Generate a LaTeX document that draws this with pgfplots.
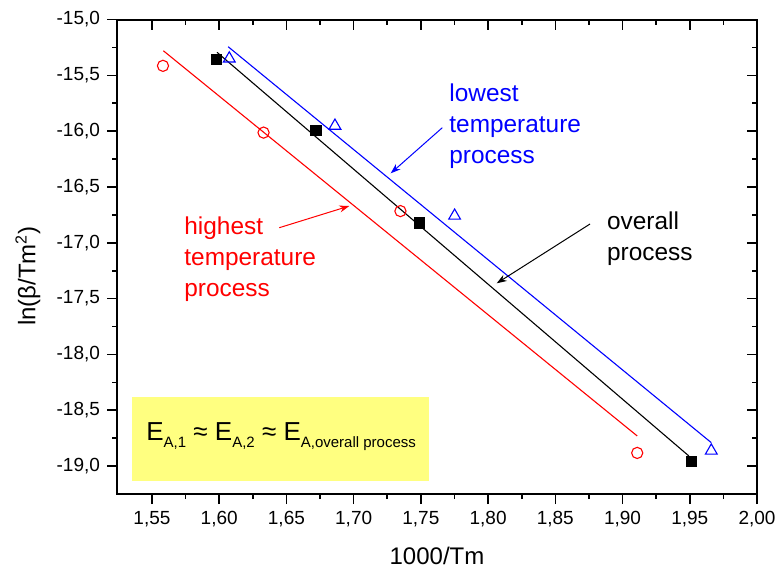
\documentclass[border=0pt]{standalone}
\usepackage{pgfplots}
\pgfplotsset{compat=1.18}
\usetikzlibrary{arrows.meta}
\usepackage{fontspec}
\setmainfont{Liberation Sans}
\definecolor{boxyellow}{RGB}{255,255,128}
\begin{document}
\begin{tikzpicture}
\path[use as bounding box] (0,0) rectangle (390.5pt,-287pt);
\begin{scope}[x=0.5pt,y=-0.5pt]
\fill[boxyellow] (132.3,397.3) rectangle (429.3,481.2);
\end{scope}
\pgfplotsset{myaxis/.style={
  at={(58.5pt,-247pt)}, anchor=south west, scale only axis,
  width=320pt, height=237.25pt,
  xmin=1.524, xmax=2.0, ymin=-19.25, ymax=-15,
  xtick={1.55,1.6,1.65,1.7,1.75,1.8,1.85,1.9,1.95,2.0},
  ytick={-19,-18.5,-18,-17.5,-17,-16.5,-16,-15.5,-15},
  minor x tick num=1, minor y tick num=1,
  major tick length=5pt, minor tick length=2.5pt,
  axis line style={line width=1pt},
  every tick/.style={black,line width=0.8pt},
  tick label style={font=\fontsize{9.5}{11}\selectfont},
  /pgf/number format/.cd, use comma, fixed, fixed zerofill, assume math mode=true,
}}
\begin{axis}[myaxis,
  tick align=outside, tick pos=left,
  xticklabel style={/pgf/number format/precision=2},
  yticklabel style={/pgf/number format/precision=1},
  clip=false]
\addplot[red, line width=0.55pt] coordinates {(1.5585,-15.28) (1.9109,-18.73)};
\addplot[black, line width=0.55pt] coordinates {(1.5984,-15.294) (1.9493,-18.909)};
\addplot[blue, line width=0.55pt] coordinates {(1.6067,-15.244) (1.966,-18.79)};
\addplot[only marks, red, mark=o, mark size=2.8pt, mark options={line width=0.55pt}]
  coordinates {(1.5582,-15.415) (1.633,-16.013) (1.7348,-16.716) (1.9109,-18.882)};
\addplot[only marks, black, mark=square*, mark size=2.6pt]
  coordinates {(1.598,-15.357) (1.6718,-15.992) (1.749,-16.82) (1.9511,-18.957)};
\addplot[only marks, blue, mark=triangle, mark size=3.4pt, mark options={line width=0.55pt}]
  coordinates {(1.6075,-15.35) (1.6861,-15.952) (1.7751,-16.758) (1.966,-18.862)};
\end{axis}
\begin{axis}[myaxis, tick align=inside, tick pos=right, xticklabels={}, yticklabels={}]
\end{axis}
\begin{scope}[x=0.5pt,y=-0.5pt]
\node[rotate=90, font=\fontsize{12}{14}\selectfont] at (28,276) {ln(β/Tm\textsuperscript{2})};
\node[font=\fontsize{12}{14}\selectfont] at (437,556) {1000/Tm};
\node[anchor=north west, inner sep=0, align=left, blue, font=\fontsize{12.2}{15.5}\selectfont] at (449,83) {lowest\\temperature\\process};
\draw[blue, line width=0.5pt, -{Stealth[length=5pt,width=3.5pt]}] (442.3,127.7) -- (390.7,173.3);
\node[anchor=north west, inner sep=0, align=left, red, font=\fontsize{12.2}{15.5}\selectfont] at (184,216) {highest\\temperature\\process};
\draw[red, line width=0.5pt, -{Stealth[length=5pt,width=3.5pt]}] (279.3,227.7) -- (349.3,206);
\node[anchor=north west, inner sep=0, align=left, black, font=\fontsize{12.2}{15.5}\selectfont] at (606.7,211) {overall\\process};
\draw[black, line width=0.5pt, -{Stealth[length=5pt,width=3.5pt]}] (590,224) -- (496.7,283.3);
\node[anchor=base west, inner sep=0, font=\fontsize{13}{15}\selectfont] at (146,440)
  {E\raisebox{-3.5pt}{\fontsize{7.5}{9}\selectfont A,1} ≈ E\raisebox{-3.5pt}{\fontsize{7.5}{9}\selectfont A,2} ≈ E\raisebox{-3.5pt}{\fontsize{7.5}{9}\selectfont A,overall process}};
\end{scope}
\end{tikzpicture}
\end{document}
